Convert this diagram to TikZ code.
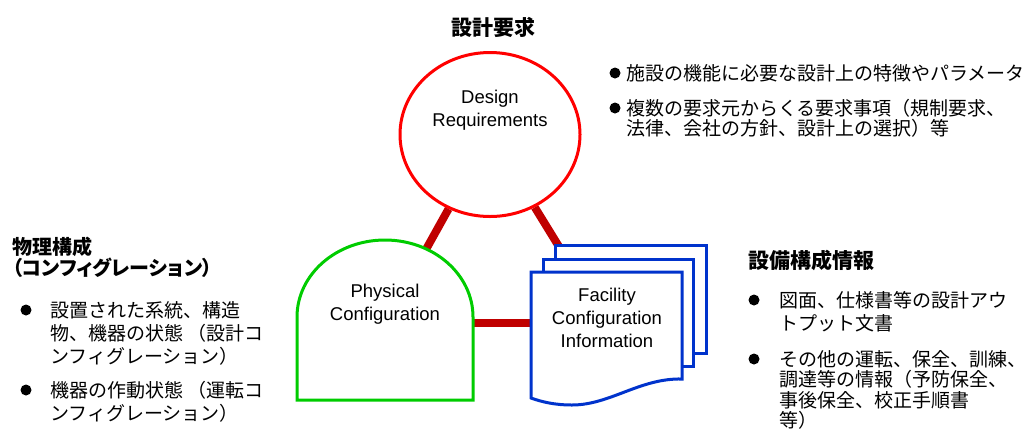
\documentclass[tikz,border=0pt]{standalone}
\usepackage{fontspec}
\setmainfont{Liberation Sans}
\newfontfamily\jpfont{Noto Sans CJK JP}
\newfontfamily\jppropfont[RawFeature=+palt]{Noto Sans CJK JP}
\usetikzlibrary{shapes.geometric}
\usetikzlibrary{backgrounds}

\definecolor{reqred}{RGB}{255,0,0}
\definecolor{linkred}{RGB}{192,0,0}
\definecolor{physgreen}{RGB}{0,204,0}
\definecolor{infoblue}{RGB}{0,51,204}

\begin{document}
\begin{tikzpicture}[x=1pt, y=-1pt,
	dot/.style={circle, fill, inner sep=0pt, minimum size=11pt},
	eng/.style={align=center, inner sep=0pt, font=\fontsize{18.5}{23}\selectfont},
	head/.style={align=left, anchor=west, inner sep=0pt, font=\jpfont\bfseries\fontsize{20}{21}\selectfont},
	body/.style={align=left, anchor=west, inner sep=0pt, font=\jpfont\fontsize{19}{23}\selectfont},
	link/.style={draw=linkred, line width=8pt},
	page/.style={draw=infoblue, line width=3pt, fill=white}]

	\useasboundingbox (0,0) rectangle (1030,432);

	% design requirements
	\node[ellipse, draw=reqred, line width=3pt, fill=white, minimum width=180pt, minimum height=164pt] (req) at (490,134.5) {};
	\node[eng] (reqtxt) at (490,110) {Design\\Requirements};
	\node[head, anchor=center, font=\jpfont\bfseries\fontsize{21}{21}\selectfont] (reqhead) at (493,27) {設計要求};

	% physical configuration
	\draw[physgreen, line width=3pt, fill=white] (297,400) -- (297,317) arc (180:360:88 and 77) -- (473,400) -- cycle;
	\coordinate (phys) at (385,323);
	\node[eng] (phystxt) at (385,304) {Physical\\Configuration};

	% facility configuration information
	\draw[page] (555,245) rectangle (706,353);
	\draw[page] (543,259) rectangle (693,366);
	\draw[page] (531,272) -- (682,272) -- (682,379) .. controls (640,378) and (610,405) .. (572,405) .. controls (555,405) and (542,402) .. (531,398) -- cycle;
	\coordinate (facil) at (606,323);
	\node[eng] (faciltxt) at (607,318) {Facility\\Configuration\\Information};

	% links
	\begin{scope}[on background layer]
		\draw[link] (req) -- (phys);
		\draw[link] (req) -- (facil);
		\draw[link] (phys) -- (facil);
	\end{scope}

	% notes on design requirements
	\node[dot] (reqb1) at (615,73) {};
	\node[body] (reqi1) at (626,73) {施設の機能に必要な設計上の特徴やパラメータ};
	\node[dot] (reqb2) at (615,108) {};
	\node[body, font=\jpfont\fontsize{19}{20}\selectfont] (reqi2) at (626,118) {複数の要求元からくる要求事項（規制要求、\\法律、会社の方針、設計上の選択）等};

	% notes on physical configuration
	\node[head, font=\jppropfont\bfseries\fontsize{20}{21}\selectfont] (physhead) at (12,257.5) {物理構成\\（コンフィグレーション）};
	\node[dot] (physb1) at (26,310) {};
	\node[body] (physi1) at (50,333) {設置された系統、構造\\物、機器の状態 （設計コ\\ンフィグレーション）};
	\node[dot] (physb2) at (26,390) {};
	\node[body] (physi2) at (50,401.5) {機器の作動状態 （運転コ\\ンフィグレーション）};

	% notes on facility configuration information
	\node[head, font=\jpfont\bfseries\fontsize{21}{21}\selectfont] (facilhead) at (748,260) {設備構成情報};
	\node[dot] (facilb1) at (754,300) {};
	\node[body] (facili1) at (779,312) {図面、仕様書等の設計アウ\\トプット文書};
	\node[dot] (facilb2) at (754,359) {};
	\node[body, font=\jpfont\fontsize{19}{20.5}\selectfont] (facili2) at (779,389.75) {その他の運転、保全、訓練、\\調達等の情報（予防保全、\\事後保全、校正手順書\\等）};
\end{tikzpicture}
\end{document}
